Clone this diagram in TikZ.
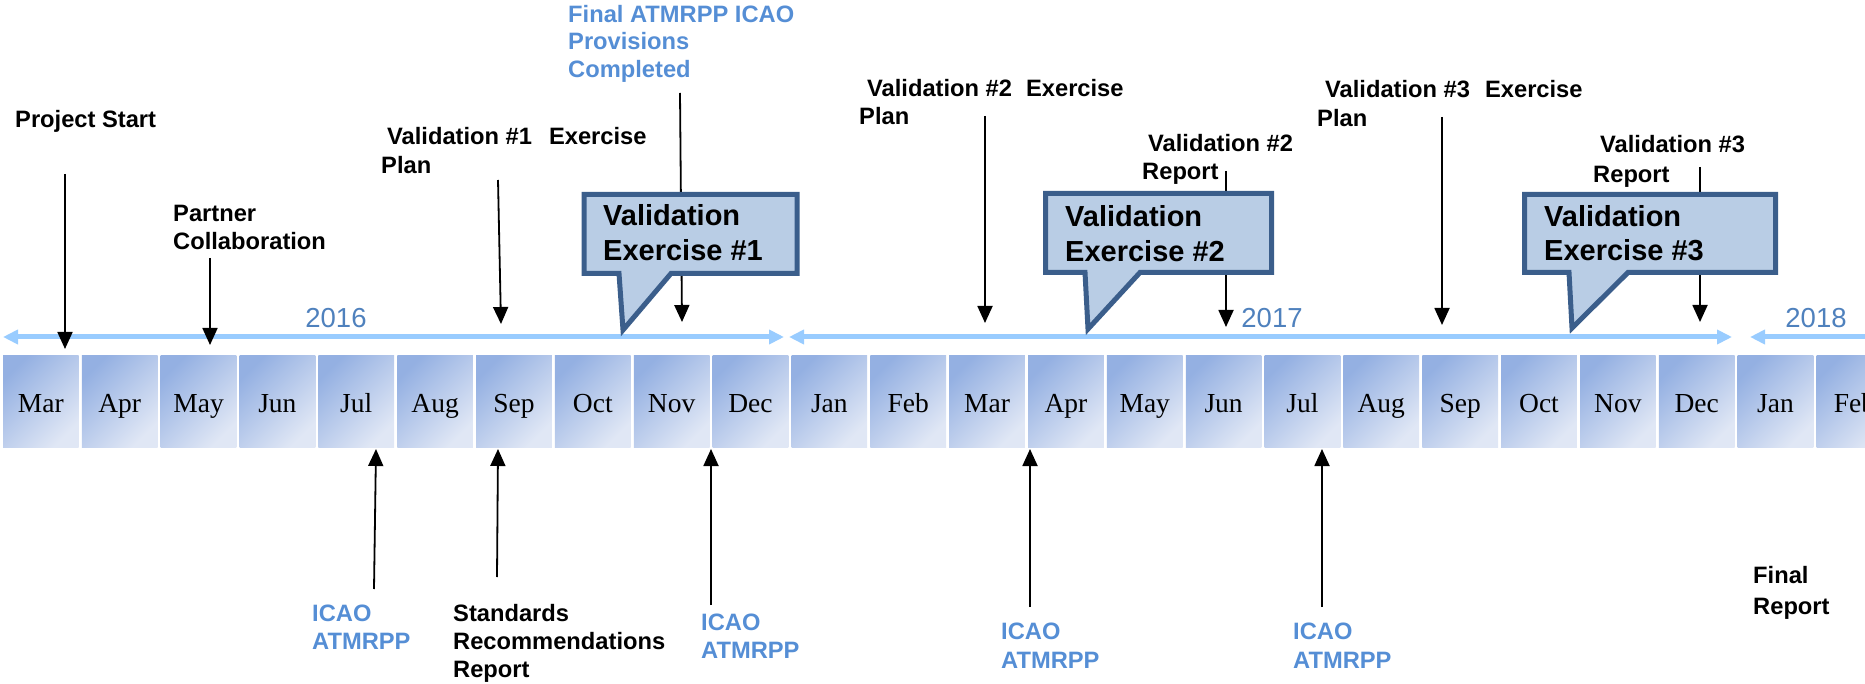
\documentclass[tikz,border=0pt]{standalone}
\usepackage{fontspec}
\setmainfont{Liberation Serif}
\setsansfont{Liberation Sans}
\usetikzlibrary{arrows.meta}
\definecolor{tlblue}{RGB}{153,204,255}
\definecolor{yrblue}{RGB}{79,129,189}
\definecolor{lblblue}{RGB}{85,142,213}
\definecolor{cofill}{RGB}{185,205,229}
\definecolor{coedge}{RGB}{59,94,139}
\definecolor{mdark}{RGB}{148,176,226}
\definecolor{mlight}{RGB}{224,231,245}
\begin{document}
\begin{tikzpicture}[x=1pt,y=-1pt,
  lbl/.style={font=\sffamily\bfseries\fontsize{23.7}{28}\selectfont, anchor=base west, inner sep=0pt, text=black},
  bluelbl/.style={lbl, text=lblblue},
  colbl/.style={font=\sffamily\bfseries\fontsize{29}{34}\selectfont, anchor=base west, inner sep=0pt},
  year/.style={font=\sffamily\fontsize{27.5}{30}\selectfont, anchor=base, inner sep=0pt, text=yrblue},
  month/.style={minimum width=75.7pt, minimum height=92pt, inner sep=0pt, draw=none,
    top color=mdark, bottom color=mlight, shading angle=45,
    font=\rmfamily\fontsize{27.5}{30}\selectfont, text height=22pt, text depth=0pt},
  tline/.style={{Triangle[length=15pt,width=14pt]}-{Triangle[length=15pt,width=14pt]}, line width=5pt, draw=tlblue},
  conn/.style={-{Triangle[length=17pt,width=15pt]}, line width=1.8pt, draw=black},
  callout/.style={fill=cofill, draw=coedge, line width=5pt, line join=miter, miter limit=20}
]
\useasboundingbox (0,0) rectangle (1865,684);
\clip (0,0) rectangle (1865,684);

% timeline arrows
\coordinate (t1a) at (3,337); \coordinate (t1b) at (784,337);
\coordinate (t2a) at (789,337); \coordinate (t2b) at (1732,337);
\coordinate (t3a) at (1750,337); \coordinate (t3b) at (1900,337);
\draw[tline] (t1a) -- (t1b);
\draw[tline] (t2a) -- (t2b);
\draw[tline] (t3a) -- (t3b);

\node[year] (y2016) at (336,327) {2016};
\node[year] (y2017) at (1272,327) {2017};
\node[year] (y2018) at (1816,327) {2018};

% month boxes
\foreach \m [count=\i from 0] in {Mar,Apr,May,Jun,Jul,Aug,Sep,Oct,Nov,Dec,Jan,Feb,Mar,Apr,May,Jun,Jul,Aug,Sep,Oct,Nov,Dec,Jan,Feb}
  \node[month] (m\i) at ({3+78.85*\i+37.85},401) {\m};

% top labels
\node[lbl] (ps) at (15,128) {Project Start};
\node[lbl] (pc1) at (173,222) {Partner};
\node[lbl] (pc2) at (173,250) {Collaboration};
\node[lbl] (v1p1) at (387,145) {Validation \#1\hspace{17pt}Exercise};
\node[lbl] (v1p2) at (381,174) {Plan};
\node[bluelbl] (fa1) at (568,23) {Final ATMRPP ICAO};
\node[bluelbl] (fa2) at (568,50) {Provisions};
\node[bluelbl] (fa3) at (568,78) {Completed};
\node[lbl] (v2p1) at (867,97) {Validation \#2\hspace{14pt}Exercise};
\node[lbl] (v2p2) at (859,125) {Plan};
\node[lbl] (v2r1) at (1148,152) {Validation \#2};
\node[lbl] (v2r2) at (1142,180) {Report};
\node[lbl] (v3p1) at (1325,98) {Validation \#3\hspace{15pt}Exercise};
\node[lbl] (v3p2) at (1317,127) {Plan};
\node[lbl] (v3r1) at (1600,153) {Validation \#3};
\node[lbl] (v3r2) at (1593,183) {Report};

% bottom labels
\node[bluelbl] (ic1a) at (312,621) {ICAO};
\node[bluelbl] (ic1b) at (312,649) {ATMRPP};
\node[lbl] (sr1) at (453,621) {Standards};
\node[lbl] (sr2) at (453,649) {Recommendations};
\node[lbl] (sr3) at (453,677) {Report};
\node[bluelbl] (ic2a) at (701,630) {ICAO};
\node[bluelbl] (ic2b) at (701,658) {ATMRPP};
\node[bluelbl] (ic3a) at (1001,639) {ICAO};
\node[bluelbl] (ic3b) at (1001,668) {ATMRPP};
\node[bluelbl] (ic4a) at (1293,639) {ICAO};
\node[bluelbl] (ic4b) at (1293,668) {ATMRPP};
\node[lbl] (fr1) at (1753,583) {Final};
\node[lbl] (fr2) at (1753,614) {Report};

% down arrows
\coordinate (a1s) at (65,174);   \coordinate (a1e) at (65,349);
\coordinate (a2s) at (210,258);  \coordinate (a2e) at (210,345);
\coordinate (a3s) at (498,180);  \coordinate (a3e) at (501,324);
\coordinate (a4s) at (680,93);   \coordinate (a4e) at (682,322);
\coordinate (a5s) at (985,116);  \coordinate (a5e) at (985,323);
\coordinate (a6s) at (1226,171); \coordinate (a6e) at (1226,327);
\coordinate (a7s) at (1442,117); \coordinate (a7e) at (1442,325);
\coordinate (a8s) at (1700,167); \coordinate (a8e) at (1700,322);
\foreach \k in {1,...,8} \draw[conn] (a\k s) -- (a\k e);

% up arrows
\coordinate (b1s) at (374,589);  \coordinate (b1e) at (376,449);
\coordinate (b2s) at (497,577);  \coordinate (b2e) at (498,449);
\coordinate (b3s) at (711,605);  \coordinate (b3e) at (711,449);
\coordinate (b4s) at (1030,607); \coordinate (b4e) at (1030,449);
\coordinate (b5s) at (1322,607); \coordinate (b5e) at (1322,449);
\foreach \k in {1,...,5} \draw[conn] (b\k s) -- (b\k e);

% callouts
\draw[callout] (584,194.5) -- (797,194.5) -- (797,273.5) -- (671,273.5) -- (623,330) -- (619,273.5) -- (584,273.5) -- cycle;
\node[colbl] (c1a) at (603,226) {Validation};
\node[colbl] (c1b) at (603,261) {Exercise \#1};

\draw[callout] (1045.5,193.5) -- (1271.5,193.5) -- (1271.5,272.5) -- (1140,272.5) -- (1088,329) -- (1085,272.5) -- (1045.5,272.5) -- cycle;
\node[colbl] (c2a) at (1065,227) {Validation};
\node[colbl] (c2b) at (1065,262) {Exercise \#2};

\draw[callout] (1524.5,194.5) -- (1775.5,194.5) -- (1775.5,272.5) -- (1628,272.5) -- (1572,328) -- (1569,272.5) -- (1524.5,272.5) -- cycle;
\node[colbl] (c3a) at (1544,227) {Validation};
\node[colbl] (c3b) at (1544,261) {Exercise \#3};
\end{tikzpicture}
\end{document}
